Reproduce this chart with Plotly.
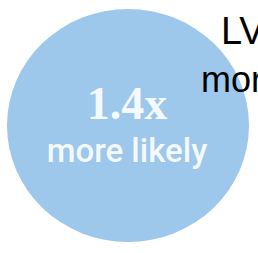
import plotly.graph_objects as go

# Data
ratio_value = 1.4
ratio_label = "1.4x"
ratio_caption = "more likely"
side_title = "LV"
side_caption = "mor"

W, H = 258, 253
circle_color = "#9DC7EB"

fig = go.Figure()

# bubble
fig.add_shape(type="circle", xref="x", yref="y",
              x0=7, x1=249, y0=9, y1=242,
              fillcolor=circle_color, line=dict(width=0), layer="below")

fig.add_trace(go.Scatter(
    x=[127], y=[107], mode="text", text=[f"<b>{ratio_label}</b>"],
    textfont=dict(family="Liberation Serif", size=46, color="#F4F9FD"),
    hoverinfo="skip", showlegend=False))
fig.add_trace(go.Scatter(
    x=[127], y=[154], mode="text", text=[ratio_caption],
    textfont=dict(family="Roboto", size=33, color="#F4F9FD", weight=500),
    hoverinfo="skip", showlegend=False))

fig.add_annotation(x=219, y=31, xref="x", yref="y", text=side_title,
                   showarrow=False, xanchor="left", yanchor="middle",
                   font=dict(family="Liberation Sans", size=38, color="black"))
fig.add_annotation(x=199, y=79, xref="x", yref="y", text=side_caption,
                   showarrow=False, xanchor="left", yanchor="middle",
                   font=dict(family="Liberation Sans", size=36, color="black"))

fig.update_layout(
    width=W, height=H, margin=dict(l=0, r=0, t=0, b=0),
    paper_bgcolor="white", plot_bgcolor="white",
    xaxis=dict(range=[0, W], visible=False, fixedrange=True),
    yaxis=dict(range=[H, 0], visible=False, fixedrange=True),
    showlegend=False,
)

fig.write_html("out.html", config={"displayModeBar": False},
               post_script="document.body.style.margin='0px';document.body.style.overflow='hidden';")
